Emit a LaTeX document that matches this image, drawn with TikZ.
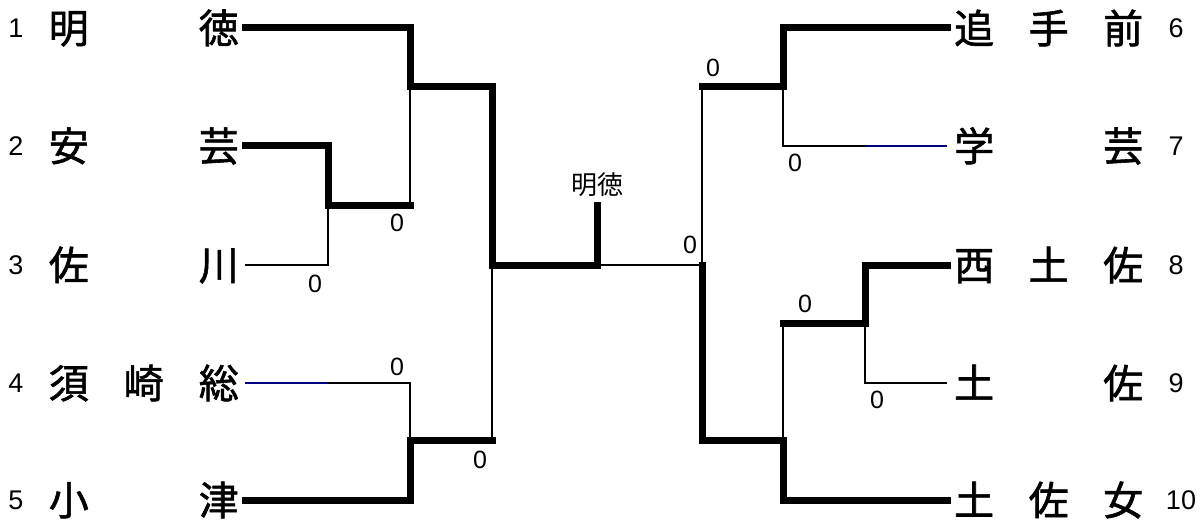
\documentclass[tikz,border=0pt]{standalone}
\usepackage{fontspec}
\newfontfamily\cjk{Noto Sans CJK JP}
\newfontfamily\cjkb[FakeBold=1.5]{Noto Sans CJK JP}
\newfontfamily\numf{Liberation Sans}
\begin{document}
\begin{tikzpicture}[x=1pt,y=-1pt,
  win/.style={line width=7pt,line join=miter,line cap=rect},
  lose/.style={line width=2pt},
  navyline/.style={line width=2pt,draw={rgb,255:red,0;green,0;blue,128}},
  lname/.style={anchor=east,inner sep=0pt,font=\cjkb\fontsize{40}{40}\selectfont},
  rname/.style={anchor=west,inner sep=0pt,font=\cjkb\fontsize{40}{40}\selectfont},
  seed/.style={inner sep=0pt,font=\numf\fontsize{27}{27}\selectfont},
  score/.style={inner sep=0pt,font=\numf\fontsize{25}{25}\selectfont},
  champ/.style={inner sep=0pt,font=\cjk\fontsize{26}{26}\selectfont}]
\useasboundingbox (0,0) rectangle (1202,524);
% left names
\node[lname] (t1) at (239,28) {\makebox[190pt][s]{明\hfill 徳}};
\node[lname] (t2) at (239,146) {\makebox[190pt][s]{安\hfill 芸}};
\node[lname] (t3) at (239,265) {\makebox[190pt][s]{佐\hfill 川}};
\node[lname] (t4) at (239,383) {\makebox[190pt][s]{須\hfill 崎\hfill 総}};
\node[lname] (t5) at (239,500) {\makebox[190pt][s]{小\hfill 津}};
\node[seed] (s1) at (16,28) {1};
\node[seed] (s2) at (16,146) {2};
\node[seed] (s3) at (16,265) {3};
\node[seed] (s4) at (16,383) {4};
\node[seed] (s5) at (16,500) {5};
% right names
\node[rname] (t6) at (954,28) {\makebox[189pt][s]{追\hfill 手\hfill 前}};
\node[rname] (t7) at (954,146) {\makebox[189pt][s]{学\hfill 芸}};
\node[rname] (t8) at (954,265) {\makebox[189pt][s]{西\hfill 土\hfill 佐}};
\node[rname] (t9) at (954,383) {\makebox[189pt][s]{土\hfill 佐}};
\node[rname] (t10) at (954,500) {\makebox[189pt][s]{土\hfill 佐\hfill 女}};
\node[seed] (s6) at (1176,28) {6};
\node[seed] (s7) at (1176,146) {7};
\node[seed] (s8) at (1176,265) {8};
\node[seed] (s9) at (1176,383) {9};
\node[seed] (s10) at (1181,500) {10};
% coordinates
\coordinate (a1) at (245,28);
\coordinate (a2) at (245,146);
\coordinate (a3) at (245,265);
\coordinate (a4) at (245,383);
\coordinate (a5) at (245,500);
\coordinate (m23) at (328,205);
\coordinate (m123) at (410,87);
\coordinate (m45) at (410,440);
\coordinate (sf1) at (492,265);
\coordinate (fin) at (597,205);
\coordinate (b6) at (947,28);
\coordinate (b7) at (947,146);
\coordinate (b8) at (947,265);
\coordinate (b9) at (947,383);
\coordinate (b10) at (947,500);
\coordinate (m67) at (783,87);
\coordinate (m89) at (865,323);
\coordinate (m8910) at (783,440);
\coordinate (sf2) at (702,265);
% left bracket: losers (thin)
\draw[lose] (a3) -| (m23);
\draw[navyline] (a4) -- (328,383);
\draw[lose] (328,383) -| (m45);
\draw[lose] (m23 -| m123) -- (m123);
\draw[lose] (m45 -| sf1) -- (sf1);
% left bracket: winners (thick)
\draw[win] (a1) -| (m123) -- (m123 -| sf1) -- (sf1) -- (sf1 -| fin) -- (fin);
\draw[win] (a2) -| (m23) -- (m23 -| m123);
\draw[win] (a5) -| (m45) -- (m45 -| sf1);
% final
\draw[lose] (sf1 -| fin) -- (sf2);
% right bracket: thin
\draw[lose] (m67 -| sf2) -- (sf2);
\draw[lose] (m67) -- (m67 |- b7) -- (865,146);
\draw[navyline] (865,146) -- (b7);
\draw[lose] (m89) |- (b9);
\draw[lose] (m89 -| m8910) -- (m8910);
% right bracket: thick
\draw[win] (m67 -| sf2) -- (m67) |- (b6);
\draw[win] (sf2) -- (m8910 -| sf2) -- (m8910) |- (b10);
\draw[win] (m89 -| m8910) -- (m89) |- (b8);
% champion and scores
\node[champ] (ch) at (597,185) {明徳};
\node[score] (c1) at (397,223) {0};
\node[score] (c2) at (315,284) {0};
\node[score] (c3) at (397,367) {0};
\node[score] (c4) at (480,460) {0};
\node[score] (c5) at (690,245) {0};
\node[score] (c6) at (713,68) {0};
\node[score] (c7) at (795,163) {0};
\node[score] (c8) at (805,304) {0};
\node[score] (c9) at (877,400) {0};
\end{tikzpicture}
\end{document}
